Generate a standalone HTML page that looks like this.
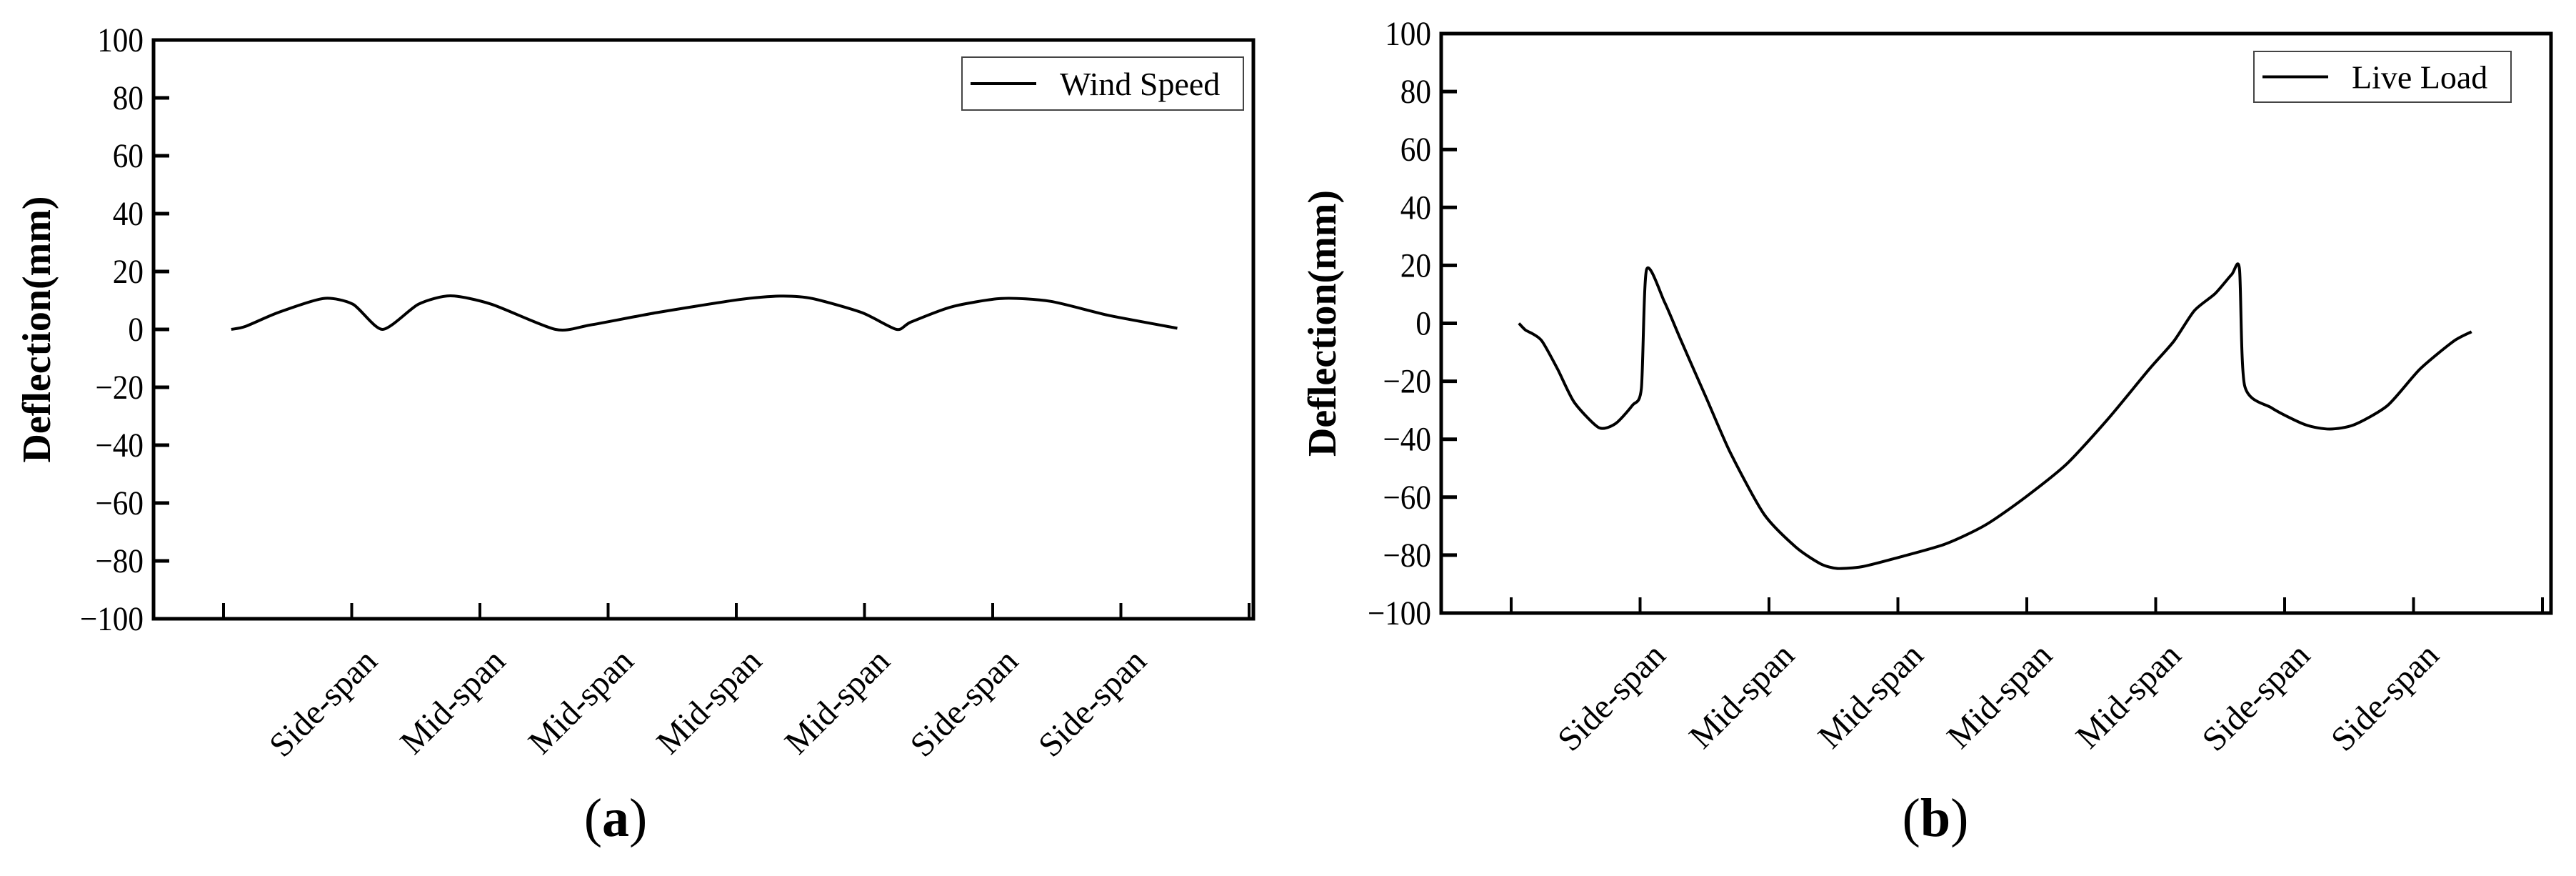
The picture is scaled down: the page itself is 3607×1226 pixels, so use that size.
<!DOCTYPE html>
<html><head><meta charset="utf-8"><style>
html,body{margin:0;padding:0;background:#fff;}
svg{display:block;font-family:"Liberation Serif",serif;}
</style></head><body>
<svg id="fig" width="3607" height="1226" viewBox="0 0 3607 1226" xmlns="http://www.w3.org/2000/svg"></svg>
<script>
const categories = ["Side-span","Mid-span","Mid-span","Mid-span","Mid-span","Side-span","Side-span"];
const yTicks = [-100,-80,-60,-40,-20,0,20,40,60,80,100];
const windX = [0.06,0.17,0.43,0.78,1.01,1.24,1.52,1.77,2.09,2.59,2.86,3.38,4.02,4.34,4.59,4.98,5.25,5.36,5.68,6.07,6.45,6.9,7.44];
const windY = [0,1,5.9,10.7,8.7,0,8.7,11.6,8.7,0,1.5,5.8,10.3,11.5,10.7,5.8,0,2.5,7.8,10.7,9.7,4.9,0.4];
const liveX = [0.06,0.11,0.17,0.24,0.36,0.49,0.68,0.81,0.94,1.01,1.05,1.19,1.32,1.51,1.70,1.96,2.21,2.40,2.53,2.72,2.97,3.36,3.68,3.99,4.31,4.63,4.95,5.14,5.30,5.46,5.59,5.65,5.69,5.90,6.16,6.35,6.54,6.80,7.05,7.31,7.45];
const liveY = [0,-2.3,-3.7,-6.2,-15.8,-27.3,-36,-34.6,-28.3,-22.5,18.5,7.3,-6.2,-25.4,-44.6,-65.8,-77.3,-83,-84.6,-84,-81.2,-76.3,-69.6,-60,-48.5,-33,-15.8,-6.2,4.4,10.2,16.9,18.7,-21.5,-29.2,-35,-36.5,-35,-28.3,-15.8,-6.2,-2.9];

const NS="http://www.w3.org/2000/svg";
const svg=document.getElementById('fig');
function mk(tag,attrs,parent){const e=document.createElementNS(NS,tag);for(const k in attrs)e.setAttribute(k,attrs[k]);(parent||svg).appendChild(e);return e;}

function smoothPath(pts){
  // Catmull-Rom with reduced tension, keeps sharp points reasonable
  let d='M'+pts[0][0].toFixed(1)+','+pts[0][1].toFixed(1);
  const t=0.12;
  for(let i=0;i<pts.length-1;i++){
    const p0=pts[Math.max(0,i-1)],p1=pts[i],p2=pts[i+1],p3=pts[Math.min(pts.length-1,i+2)];
    const c1=[p1[0]+(p2[0]-p0[0])*t,p1[1]+(p2[1]-p0[1])*t];
    const c2=[p2[0]-(p3[0]-p1[0])*t,p2[1]-(p3[1]-p1[1])*t];
    d+=` C${c1[0].toFixed(1)},${c1[1].toFixed(1)} ${c2[0].toFixed(1)},${c2[1].toFixed(1)} ${p2[0].toFixed(1)},${p2[1].toFixed(1)}`;
  }
  return d;
}

function panel(p){
  const g=mk('g',{});
  
  
  const xs=i=>p.tick0+i*p.step;
  const ys=v=>p.bottom-(v+100)/200*(p.bottom-p.top);
  const fr=mk('rect',{x:p.left,y:p.top,width:p.right-p.left,height:p.bottom-p.top,fill:'none',stroke:'#000','stroke-width':5},g);
  
  
  yTicks.forEach(v=>{
    const y=ys(v);
    const t=mk('line',{x1:p.left,x2:p.left+22,y1:y,y2:y,stroke:'#000','stroke-width':5},g);
    
    
    const l=mk('text',{x:p.left-14,y:y+16,'text-anchor':'end','font-size':48,transform:`translate(${p.left-14},0) scale(0.9,1) translate(${-(p.left-14)},0)`},g);
    l.textContent=v<0?'\u2212'+Math.abs(v):String(v);
    
    
  });
  for(let i=0;i<=8;i++){
    const x=xs(i);
    const t=mk('line',{x1:x,x2:x,y1:p.bottom,y2:p.bottom-22,stroke:'#000','stroke-width':4},g);
    
    
  }
  categories.forEach((c,i)=>{
    const x=xs(i+1)+38, y=p.bottom+62;
    const l=mk('text',{x:x,y:y,'text-anchor':'end','font-size':48,transform:`rotate(-45 ${x} ${y})`},g);
    l.textContent=c;
    
    
  });
  const cy=(p.top+p.bottom)/2;
  const yt=mk('text',{x:p.titleX,y:cy,'text-anchor':'middle','font-size':56,'font-weight':'bold',transform:`rotate(-90 ${p.titleX} ${cy})`},g);
  yt.textContent='Deflection(mm)';
  
  
  const pts=p.xv.map((v,i)=>[xs(v),ys(p.yv[i])]);
  const s=mk('path',{d:smoothPath(pts),fill:'none',stroke:'#000','stroke-width':4,'stroke-linejoin':'round'},g);
  
  
  const lg=mk('g',{},g);
  
  
  mk('rect',{x:p.lg[0],y:p.lg[1],width:p.lg[2]-p.lg[0],height:p.lg[3]-p.lg[1],fill:'#fff',stroke:'#444','stroke-width':2},lg);
  const my=(p.lg[1]+p.lg[3])/2;
  const ll=mk('line',{x1:p.lg[0]+12,x2:p.lg[0]+104,y1:my,y2:my,stroke:'#000','stroke-width':4},lg);
  
  
  const lt=mk('text',{x:p.lg[0]+137,y:my+16,'font-size':46},lg);
  lt.textContent=p.label;
  
  
  const cap=mk('text',{x:p.capX,y:1170,'text-anchor':'middle','font-size':76},g);
  cap.innerHTML='(<tspan font-weight="bold">'+p.cap+'</tspan>)';
  
  
}
panel({name:'panel-a-wind-speed',left:215,right:1755,top:56,bottom:866,tick0:313,step:179.5,titleX:70,xv:windX,yv:windY,seriesName:'wind-speed-line',lg:[1347,80,1741,154],label:'Wind Speed',capX:862,cap:'a'});
panel({name:'panel-b-live-load',left:2018,right:3572,top:47,bottom:858,tick0:2116,step:180.5,titleX:1870,xv:liveX,yv:liveY,seriesName:'live-load-line',lg:[3156,72,3516,143],label:'Live Load',capX:2710,cap:'b'});
</script>
</body></html>
